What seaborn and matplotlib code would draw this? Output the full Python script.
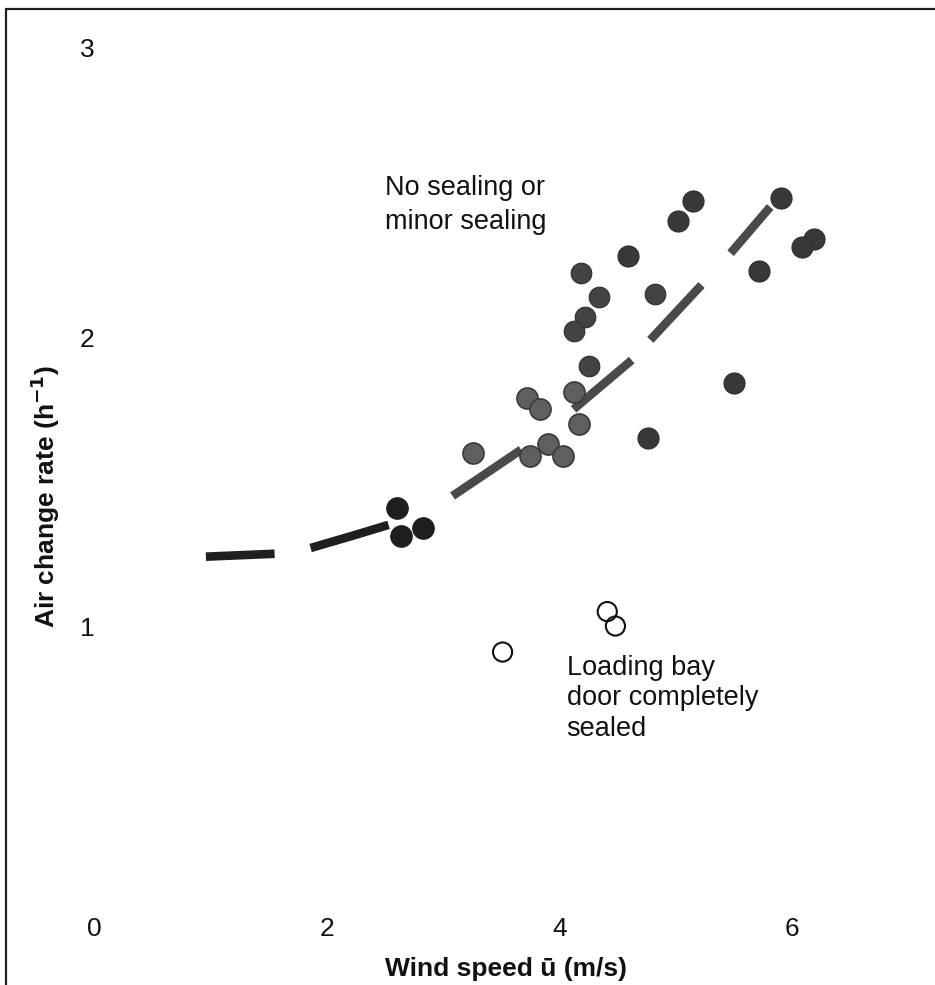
import numpy as np
import pandas as pd
import matplotlib.pyplot as plt
import seaborn as sns
from matplotlib.lines import Line2D

# measured points, wind speed (m/s) and air change rate (1/h)
solid_x = [5.15, 5.02, 5.90, 6.19, 6.08, 4.59, 5.71, 5.50, 4.76]
solid_y = [2.47, 2.40, 2.48, 2.34, 2.31, 2.28, 2.23, 1.84, 1.65]

speck_x = [4.18, 4.34, 4.82, 4.22, 4.12, 4.25]
speck_y = [2.22, 2.14, 2.15, 2.07, 2.02, 1.90]

shaded_x = [3.72, 3.83, 4.12, 4.17, 3.90, 4.03, 3.75, 3.26]
shaded_y = [1.79, 1.75, 1.81, 1.70, 1.63, 1.59, 1.59, 1.60]

black_x = [2.60, 2.83, 2.64]
black_y = [1.41, 1.34, 1.31]

# loading bay door completely sealed
sealed_x = [4.41, 4.48, 3.51]
sealed_y = [1.05, 1.00, 0.91]

# hand drawn fitted curve, drawn as broken dashes
seg_id = [1, 1, 2, 2, 2, 3, 3, 4, 4, 5, 5, 6, 6]
seg_x = [0.96, 1.55, 1.86, 2.20, 2.53, 3.08, 3.67, 4.12, 4.62, 4.78, 5.22, 5.47, 5.81]
seg_y = [1.24, 1.25, 1.27, 1.31, 1.35, 1.45, 1.61, 1.75, 1.92, 1.99, 2.18, 2.29, 2.45]
seg_shade = ['black'] * 5 + ['grey'] * 8

x_ticks = [0, 2, 4, 6]
y_ticks = [1, 2, 3]

sns.set_theme(style='white')
plt.rcParams['font.family'] = ['Liberation Sans', 'DejaVu Sans']

fig = plt.figure(figsize=(9.35, 9.85), dpi=100)
ax = fig.add_axes([0, 0, 1, 1])
ax.set_xlim(-0.81, 7.227)
ax.set_ylim(-0.242, 3.166)

fit = pd.DataFrame({'seg': seg_id, 'x': seg_x, 'y': seg_y, 'shade': seg_shade})
sns.lineplot(data=fit, x='x', y='y', units='seg', estimator=None, sort=False,
             hue='shade', palette={'black': '#1f1f1f', 'grey': '#4a4a4a'},
             linewidth=6.2, solid_capstyle='butt', legend=False, ax=ax, zorder=2)

sns.scatterplot(x=solid_x, y=solid_y, s=230, color='#383838', edgecolor='#2e2e2e',
                linewidth=0.8, ax=ax, zorder=3)
sns.scatterplot(x=speck_x, y=speck_y, s=220, color='#434343', edgecolor='#2e2e2e',
                linewidth=0.8, ax=ax, zorder=3)
sns.scatterplot(x=shaded_x, y=shaded_y, s=230, color='#5f5f5f', edgecolor='#3a3a3a',
                linewidth=1.2, ax=ax, zorder=3)
sns.scatterplot(x=black_x, y=black_y, s=240, color='#1e1e1e', edgecolor='#1e1e1e',
                linewidth=0.8, ax=ax, zorder=3)
sns.scatterplot(x=sealed_x, y=sealed_y, s=190, facecolor='none', edgecolor='#111111',
                linewidth=1.5, ax=ax, zorder=3)

ax.text(2.50, 2.56, 'No sealing or\nminor sealing', fontsize=19.5, ha='left', va='top',
        linespacing=1.4, color='#111111')
ax.text(4.06, 0.90, 'Loading bay\ndoor completely\nsealed', fontsize=19.5, ha='left',
        va='top', linespacing=1.22, color='#111111')

ax.set_xticks(x_ticks)
ax.set_xticklabels([str(t) for t in x_ticks])
ax.set_yticks(y_ticks)
ax.set_yticklabels([str(t) for t in y_ticks])
ax.tick_params(axis='x', length=0, pad=-49, labelsize=19, labelcolor='#111111')
ax.tick_params(axis='y', length=0, pad=-68, labelsize=19, labelcolor='#111111')

ax.set_xlabel('Wind speed ū (m/s)', fontsize=19, fontweight='bold', color='#111111')
ax.xaxis.set_label_coords(506 / 935, 1 - 969 / 985)
ax.xaxis.label.set_va('center')
ax.set_ylabel(r'Air change rate (h$^{\mathbf{-1}}$)', fontsize=19, fontweight='bold',
              color='#111111')
ax.yaxis.set_label_coords(45 / 935, 1 - 496 / 985)
ax.yaxis.label.set_va('center')

for s in ax.spines.values():
    s.set_visible(False)
ax.grid(False)

# frame of the scanned figure: left and top edges only
fig.add_artist(Line2D([6 / 935, 6 / 935], [0, 1 - 9 / 985], color='#222222', lw=1.6))
fig.add_artist(Line2D([6 / 935, 1], [1 - 9 / 985, 1 - 9 / 985], color='#222222', lw=1.6))

fig.savefig('out.png', dpi=100, facecolor='white')
